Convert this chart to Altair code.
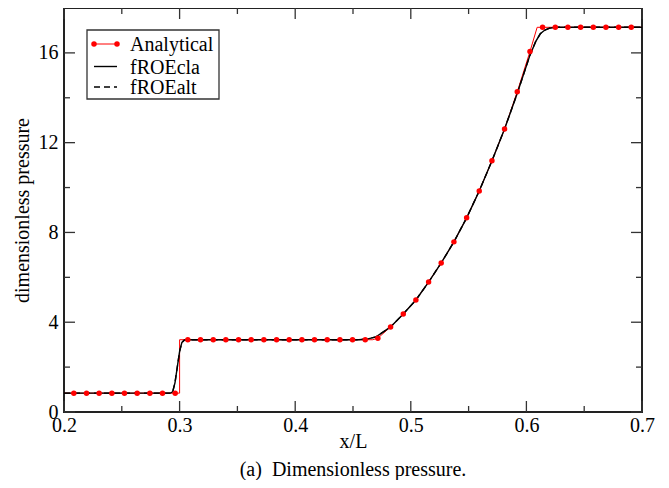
import altair as alt
import pandas as pd

# ---------------- data ----------------
dot_x = [0.2085, 0.2195, 0.2304, 0.2414, 0.2523, 0.2633, 0.2743, 0.2852, 0.2962,
         0.3071, 0.3181, 0.3291, 0.3400, 0.3510, 0.3619, 0.3729, 0.3839, 0.3948,
         0.4058, 0.4167, 0.4277, 0.4387, 0.4496, 0.4606, 0.4715, 0.4825, 0.4935,
         0.5044, 0.5154, 0.5263, 0.5373, 0.5483, 0.5592, 0.5702, 0.5811, 0.5921,
         0.6031, 0.6140, 0.6250, 0.6359, 0.6469, 0.6579, 0.6688, 0.6798, 0.6907]
dot_p = [0.84, 0.84, 0.84, 0.84, 0.84, 0.84, 0.84, 0.84, 0.84,
         3.22, 3.22, 3.22, 3.22, 3.22, 3.22, 3.22, 3.22, 3.22,
         3.22, 3.22, 3.22, 3.22, 3.22, 3.22, 3.29, 3.79, 4.37,
         4.99, 5.79, 6.64, 7.58, 8.65, 9.85, 11.19, 12.61, 14.27,
         16.06, 17.14, 17.14, 17.14, 17.14, 17.14, 17.14, 17.14, 17.14]

ana_x = [0.2, 0.3, 0.3, 0.467, 0.4715, 0.4825, 0.4935, 0.5044, 0.5154, 0.5263,
         0.5373, 0.5483, 0.5592, 0.5702, 0.5811, 0.5921, 0.6031, 0.6093, 0.7]
ana_p = [0.84, 0.84, 3.22, 3.22, 3.29, 3.79, 4.37, 4.99, 5.79, 6.64,
         7.58, 8.65, 9.85, 11.19, 12.61, 14.27, 16.06, 17.14, 17.14]

num_x = [0.2, 0.292, 0.294, 0.296, 0.298, 0.300, 0.302, 0.304, 0.307, 0.455,
         0.462, 0.470, 0.4825, 0.4935, 0.5044, 0.5154, 0.5263, 0.5373, 0.5483,
         0.5592, 0.5702, 0.5811, 0.5921, 0.6031, 0.608, 0.612, 0.616, 0.620,
         0.625, 0.7]
num_p = [0.84, 0.84, 0.90, 1.30, 2.00, 2.70, 3.10, 3.20, 3.22, 3.22,
         3.25, 3.35, 3.79, 4.37, 4.99, 5.79, 6.64, 7.58, 8.65,
         9.85, 11.19, 12.61, 14.2, 15.9, 16.5, 16.85, 17.02, 17.10,
         17.14, 17.14]

x_major = [0.2, 0.3, 0.4, 0.5, 0.6, 0.7]
x_minor = [0.25, 0.35, 0.45, 0.55, 0.65]
y_major = [0, 4, 8, 12, 16]
y_minor = [2, 6, 10, 14]

legend_labels = ["Analytical", "fROEcla", "fROEalt"]

# ---------------- layout ----------------
W, H = 578, 404
FONT = "Liberation Serif"
MAJ, MIN = 11, 6

xs = alt.Scale(domain=[0.2, 0.7], nice=False, zero=False)
ys = alt.Scale(domain=[0, 18], nice=False)

dots_df = pd.DataFrame({"x": dot_x, "p": dot_p})
ana_df = pd.DataFrame({"x": ana_x, "p": ana_p, "i": list(range(len(ana_x)))})
num_df = pd.DataFrame({"x": num_x, "p": num_p, "i": list(range(len(num_x)))})

xaxis = alt.Axis(values=x_major, format=".1f", title="x/L", ticks=False, domain=False,
                 grid=False, labelPadding=3, titlePadding=-4, labelFlush=False)
yaxis = alt.Axis(values=y_major, format="d", title="dimensionless pressure", ticks=False,
                 domain=False, grid=False, labelPadding=6, titlePadding=6)

red_line = alt.Chart(ana_df).mark_line(color="#ff0000", strokeWidth=1).encode(
    x=alt.X("x:Q", scale=xs, axis=xaxis),
    y=alt.Y("p:Q", scale=ys, axis=yaxis),
    order="i:Q",
)
dash_line = alt.Chart(num_df).mark_line(color="black", strokeWidth=1.4, strokeDash=[6, 4]).encode(
    x=alt.X("x:Q", scale=xs), y=alt.Y("p:Q", scale=ys), order="i:Q")
solid_line = alt.Chart(num_df).mark_line(color="black", strokeWidth=1.4).encode(
    x=alt.X("x:Q", scale=xs), y=alt.Y("p:Q", scale=ys), order="i:Q")
dots = alt.Chart(dots_df).mark_circle(color="#ff0000", size=30, opacity=1).encode(
    x=alt.X("x:Q", scale=xs), y=alt.Y("p:Q", scale=ys))

# ---- inward ticks on all four sides ----
def xticks(vals, length):
    d = pd.DataFrame({"t": vals})
    bottom = alt.Chart(d).mark_rule(color="#333", strokeWidth=1.3).encode(
        x=alt.X("t:Q", scale=xs), y=alt.value(H), y2=alt.value(H - length))
    top = alt.Chart(d).mark_rule(color="#333", strokeWidth=1.3).encode(
        x=alt.X("t:Q", scale=xs), y=alt.value(0), y2=alt.value(length))
    return [bottom, top]

def yticks(vals, length):
    d = pd.DataFrame({"t": vals})
    left = alt.Chart(d).mark_rule(color="#333", strokeWidth=1.3).encode(
        y=alt.Y("t:Q", scale=ys), x=alt.value(0), x2=alt.value(length))
    right = alt.Chart(d).mark_rule(color="#333", strokeWidth=1.3).encode(
        y=alt.Y("t:Q", scale=ys), x=alt.value(W), x2=alt.value(W - length))
    return [left, right]

ticks = xticks(x_major, MAJ) + xticks(x_minor, MIN) + yticks(y_major, MAJ) + yticks(y_minor, MIN)

# ---- legend box ----
one = pd.DataFrame({"a": [0]})
LX0, LX1, LY0, LY1 = 23, 155, 22, 91
rows = [36, 58.5, 79]
leg = [
    alt.Chart(one).mark_rect(fill="white", stroke="#333", strokeWidth=1.3).encode(
        x=alt.value(LX0), x2=alt.value(LX1), y=alt.value(LY0), y2=alt.value(LY1)),
    alt.Chart(one).mark_rule(color="#ff0000", strokeWidth=1).encode(
        x=alt.value(30), x2=alt.value(53), y=alt.value(rows[0])),
    alt.Chart(pd.DataFrame({"px": [30, 53]})).mark_circle(color="#ff0000", size=30, opacity=1).encode(
        x=alt.X("px:Q", scale=None), y=alt.value(rows[0])),
    alt.Chart(one).mark_rule(color="black", strokeWidth=1.4).encode(
        x=alt.value(30), x2=alt.value(53), y=alt.value(rows[1])),
    alt.Chart(one).mark_rule(color="black", strokeWidth=1.4, strokeDash=[6, 4]).encode(
        x=alt.value(30), x2=alt.value(53), y=alt.value(rows[2])),
]
for r, lab in zip(rows, legend_labels):
    leg.append(alt.Chart(one).mark_text(font=FONT, fontSize=20, align="left", baseline="middle",
                                        color="black").encode(
        x=alt.value(66), y=alt.value(r + 1), text=alt.value(lab)))

chart = alt.layer(red_line, dash_line, solid_line, dots, *ticks, *leg).properties(
    width=W, height=H,
    autosize=alt.AutoSizeParams(type="none"),
    padding={"left": 56, "top": 0, "right": 15, "bottom": 68},
    title=alt.TitleParams("(a)\u00a0 Dimensionless pressure.", orient="bottom", font=FONT,
                          fontSize=20, fontWeight="normal", color="black", offset=9),
).configure_view(stroke="#222", strokeWidth=2).configure_axis(
    labelFont=FONT, titleFont=FONT, labelFontSize=20, titleFontSize=20,
    titleFontWeight="normal", labelColor="black", titleColor="black",
)

chart.save("out.html", embed_options={"renderer": "svg", "actions": False})
